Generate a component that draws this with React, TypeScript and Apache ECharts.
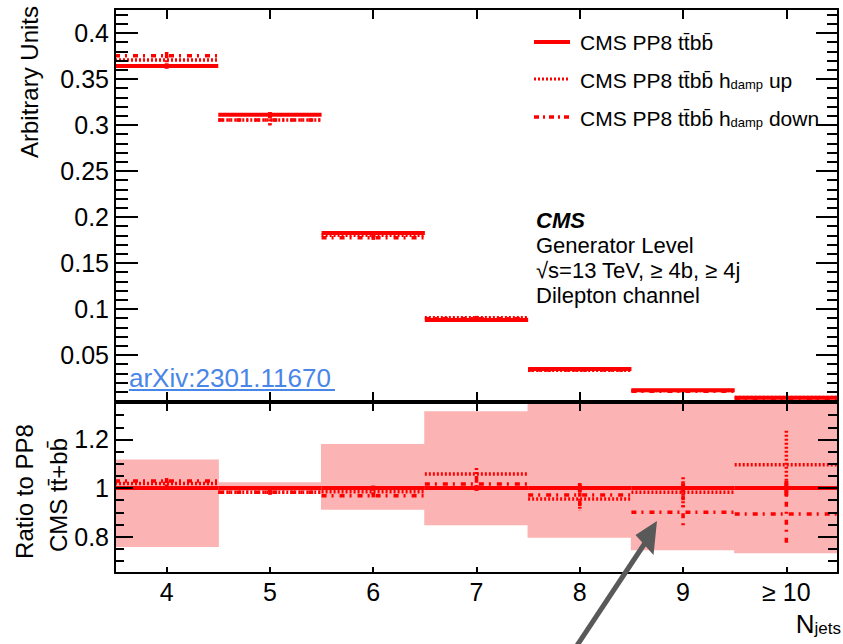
import React, { useEffect, useRef } from 'react';
import * as echarts from 'echarts';

// ---------- data ----------
const categories = ['4', '5', '6', '7', '8', '9', '≥ 10'];

// upper panel: normalised distributions (arbitrary units)
const nominal = [0.364, 0.311, 0.1826, 0.088, 0.0348, 0.0118, 0.0035];
const hdampUp = [0.3707, 0.3054, 0.1800, 0.0905, 0.0333, 0.0115, 0.0038];
const hdampDown = [0.3753, 0.3054, 0.1775, 0.0895, 0.0338, 0.0106, 0.0031];
const nominalErr = [0.003, 0.003, 0.002, 0.001, 0.0006, 0.0003, 0.0002];
const hdampUpErr = [0.004, 0.005, 0.003, 0.002, 0.001, 0.0006, 0.0004];
const hdampDownErr = [0.004, 0.007, 0.003, 0.002, 0.001, 0.0006, 0.0004];

// lower panel: ratio to nominal
const ratioNominal = [1, 1, 1, 1, 1, 1, 1];
const ratioUp = [1.019, 0.982, 0.985, 1.058, 0.955, 0.982, 1.096];
const ratioDown = [1.029, 0.982, 0.968, 1.0165, 0.971, 0.9, 0.893];
const ratioNominalErr = [0.008, 0.008, 0.01, 0.012, 0.015, 0.02, 0.03];
const ratioUpErr = [0.012, 0.01, 0.012, 0.024, 0.05, 0.062, 0.14];
const ratioDownErr = [0.012, 0.012, 0.014, 0.026, 0.05, 0.07, 0.124];
const bandLow = [0.757, 0.988, 0.91, 0.847, 0.795, 0.744, 0.731];
const bandHigh = [1.117, 1.024, 1.181, 1.316, 1.42, 1.45, 1.44];

// tick values
const mainTicks = [0.05, 0.1, 0.15, 0.2, 0.25, 0.3, 0.35, 0.4];
const mainMinorTicks = [
  0.01, 0.02, 0.03, 0.04, 0.06, 0.07, 0.08, 0.09, 0.11, 0.12, 0.13, 0.14,
  0.16, 0.17, 0.18, 0.19, 0.21, 0.22, 0.23, 0.24, 0.26, 0.27, 0.28, 0.29,
  0.31, 0.32, 0.33, 0.34, 0.36, 0.37, 0.38, 0.39, 0.41, 0.42,
];
const ratioTicks = [0.8, 1, 1.2];
const ratioMinorTicks = [0.7, 0.75, 0.85, 0.9, 0.95, 1.05, 1.1, 1.15, 1.25, 1.3];

// ---------- style ----------
const RED = '#ff0000';
const BAND = '#fbb3b3';
const FONT = 'Liberation Sans';
const SOLID = { lineWidth: 4, lineDash: null as any };
const DOTTED = { lineWidth: 3.5, lineDash: [2, 2] };
const DASHDOT = { lineWidth: 3.5, lineDash: [5, 5, 2, 6] };

function segSeries(xAxisIndex: number, yAxisIndex: number, values: number[], errs: number[], ls: any) {
  return {
    type: 'custom',
    xAxisIndex,
    yAxisIndex,
    clip: true,
    data: values.map((v, i) => [i, v, errs[i]]),
    encode: { x: 0, y: 1 },
    renderItem: (params: any, api: any) => {
      const i = api.value(0);
      const v = api.value(1);
      const e = api.value(2);
      const c = api.coord([i, v]);
      const w = api.size([1, 0])[0];
      const t = api.coord([i, v + e]);
      const b = api.coord([i, v - e]);
      const style = { stroke: RED, fill: null, lineWidth: ls.lineWidth, lineDash: ls.lineDash };
      return {
        type: 'group',
        children: [
          { type: 'line', shape: { x1: c[0] - w / 2, y1: c[1], x2: c[0] + w / 2, y2: c[1] }, style },
          { type: 'line', shape: { x1: c[0], y1: t[1], x2: c[0], y2: b[1] }, style },
        ],
      };
    },
  };
}

function bandSeries(xAxisIndex: number, yAxisIndex: number) {
  return {
    type: 'custom',
    xAxisIndex,
    yAxisIndex,
    clip: true,
    data: bandLow.map((lo, i) => [i, lo, bandHigh[i]]),
    encode: { x: 0, y: [1, 2] },
    renderItem: (params: any, api: any) => {
      const i = api.value(0);
      const lo = api.coord([i, api.value(1)]);
      const hi = api.coord([i, api.value(2)]);
      const w = api.size([1, 0])[0];
      const cs = params.coordSys;
      // slight overlap so neighbouring bins join without seams
      const rect = echarts.graphic.clipRectByRect(
        { x: lo[0] - w / 2 - 0.6, y: hi[1], width: w + 1.2, height: lo[1] - hi[1] },
        { x: cs.x, y: cs.y, width: cs.width, height: cs.height }
      );
      if (!rect) return null;
      return { type: 'rect', shape: rect, style: { fill: BAND } };
    },
  };
}

const axisLineStyle = { color: '#000', width: 2 };
const tickStyle = { color: '#000', width: 2 };
const labelStyle = { fontSize: 25, fontFamily: FONT, color: '#000' };

function xAxis(gridIndex: number, position: string, len: number, showLabel: boolean) {
  return {
    type: 'category',
    gridIndex,
    position,
    data: categories,
    boundaryGap: true,
    z: 10,
    axisLine: { show: true, onZero: false, lineStyle: axisLineStyle },
    axisTick: { show: true, inside: true, alignWithLabel: true, interval: 0, length: len, lineStyle: tickStyle },
    axisLabel: { show: showLabel, interval: 0, margin: 6, ...labelStyle },
    splitLine: { show: false },
  };
}

function yAxis(
  gridIndex: number, position: string, min: number, max: number,
  ticks: number[], len: number, labels: number[] | null, line: boolean
) {
  return {
    type: 'value',
    gridIndex,
    position,
    min,
    max,
    z: 10,
    axisLine: { show: line, onZero: false, lineStyle: axisLineStyle },
    axisTick: { show: true, inside: true, length: len, customValues: ticks, lineStyle: tickStyle },
    axisLabel: labels
      ? { show: true, customValues: labels, margin: 6, ...labelStyle, formatter: (v: number) => String(+(+v).toFixed(3)) }
      : { show: false },
    splitLine: { show: false },
  };
}

const TOP_MAX = 0.426;
const R_MIN = 0.65;
const R_MAX = 1.35;

const option: any = {
  animation: false,
  textStyle: { fontFamily: FONT },
  grid: [
    { left: 115, top: 9, width: 723, height: 392 },
    { left: 115, top: 403, width: 723, height: 170 },
  ],
  xAxis: [
    xAxis(0, 'bottom', 9, false),
    xAxis(0, 'top', 10, false),
    xAxis(1, 'bottom', 6, true),
    xAxis(1, 'top', 8, false),
  ],
  yAxis: [
    yAxis(0, 'left', 0, TOP_MAX, mainTicks, 23, mainTicks, true),
    yAxis(0, 'left', 0, TOP_MAX, mainMinorTicks, 13, null, false),
    yAxis(0, 'right', 0, TOP_MAX, mainTicks, 22, null, true),
    yAxis(0, 'right', 0, TOP_MAX, mainMinorTicks, 11, null, false),
    yAxis(1, 'left', R_MIN, R_MAX, ratioTicks, 18, ratioTicks, true),
    yAxis(1, 'left', R_MIN, R_MAX, ratioMinorTicks, 9, null, false),
    yAxis(1, 'right', R_MIN, R_MAX, ratioTicks, 20, null, true),
    yAxis(1, 'right', R_MIN, R_MAX, ratioMinorTicks, 10, null, false),
  ],
  series: [
    segSeries(0, 0, nominal, nominalErr, SOLID),
    segSeries(0, 0, hdampUp, hdampUpErr, DOTTED),
    segSeries(0, 0, hdampDown, hdampDownErr, DASHDOT),
    bandSeries(2, 4),
    segSeries(2, 4, ratioNominal, ratioNominalErr, SOLID),
    segSeries(2, 4, ratioUp, ratioUpErr, DOTTED),
    segSeries(2, 4, ratioDown, ratioDownErr, DASHDOT),
  ],
  graphic: [
    // legend
    { type: 'line', z: 100, shape: { x1: 534, y1: 42, x2: 570, y2: 42 }, style: { stroke: RED, lineWidth: 4 } },
    { type: 'line', z: 100, shape: { x1: 534, y1: 79, x2: 570, y2: 79 }, style: { stroke: RED, lineWidth: 3, lineDash: [2, 2] } },
    { type: 'line', z: 100, shape: { x1: 534, y1: 117, x2: 570, y2: 117 }, style: { stroke: RED, lineWidth: 3.5, lineDash: [5, 4, 2, 4] } },
    {
      type: 'text', z: 100, x: 580, y: 42.5,
      style: { text: 'CMS PP8 tt̄bb̄', fontSize: 21, fontFamily: FONT, fill: '#000', verticalAlign: 'middle' },
    },
    {
      type: 'text', z: 100, x: 580, y: 79,
      style: {
        text: '{m|CMS PP8 tt̄bb̄ h}{s|damp}{m| up}', verticalAlign: 'middle',
        rich: {
          m: { fontSize: 21, fontFamily: FONT, fill: '#000', lineHeight: 24, verticalAlign: 'bottom' },
          s: { fontSize: 13, fontFamily: FONT, fill: '#000', lineHeight: 6, verticalAlign: 'bottom' },
        },
      },
    },
    {
      type: 'text', z: 100, x: 580, y: 117,
      style: {
        text: '{m|CMS PP8 tt̄bb̄ h}{s|damp}{m| down}', verticalAlign: 'middle',
        rich: {
          m: { fontSize: 21, fontFamily: FONT, fill: '#000', lineHeight: 24, verticalAlign: 'bottom' },
          s: { fontSize: 13, fontFamily: FONT, fill: '#000', lineHeight: 6, verticalAlign: 'bottom' },
        },
      },
    },
    // CMS text block
    {
      type: 'text', z: 100, x: 536, y: 220,
      style: { text: 'CMS', fontSize: 22, fontWeight: 'bold', fontStyle: 'italic', fontFamily: FONT, fill: '#000', verticalAlign: 'middle' },
    },
    {
      type: 'text', z: 100, x: 536, y: 245,
      style: { text: 'Generator Level', fontSize: 22, fontFamily: FONT, fill: '#000', verticalAlign: 'middle' },
    },
    {
      type: 'text', z: 100, x: 536, y: 270,
      style: { text: '√s=13 TeV, ≥ 4b, ≥ 4j', fontSize: 22, fontFamily: FONT, fill: '#000', verticalAlign: 'middle' },
    },
    {
      type: 'text', z: 100, x: 536, y: 295.5,
      style: { text: 'Dilepton channel', fontSize: 22, fontFamily: FONT, fill: '#000', verticalAlign: 'middle' },
    },
    // arXiv link
    {
      type: 'text', z: 100, x: 129, y: 377.5,
      style: { text: 'arXiv:2301.11670', fontSize: 26, fontFamily: FONT, fill: '#4a86e8', verticalAlign: 'middle' },
    },
    { type: 'line', z: 100, shape: { x1: 129, y1: 390, x2: 335, y2: 390 }, style: { stroke: '#4a86e8', lineWidth: 2 } },
    // axis titles
    {
      type: 'text', z: 100, x: 29, y: 82, rotation: Math.PI / 2,
      style: { text: 'Arbitrary Units', fontSize: 24, fontFamily: FONT, fill: '#000', align: 'center', verticalAlign: 'middle' },
    },
    {
      type: 'text', z: 100, x: 24.5, y: 491.5, rotation: Math.PI / 2,
      style: { text: 'Ratio to PP8', fontSize: 24, fontFamily: FONT, fill: '#000', align: 'center', verticalAlign: 'middle' },
    },
    {
      type: 'text', z: 100, x: 58, y: 495, rotation: Math.PI / 2,
      style: { text: 'CMS tt̄+bb̄', fontSize: 24, fontFamily: FONT, fill: '#000', align: 'center', verticalAlign: 'middle' },
    },
    {
      type: 'text', z: 100, x: 841, y: 622,
      style: {
        text: '{n|N}{j|jets}', align: 'right', verticalAlign: 'middle',
        rich: {
          n: { fontSize: 26, fontFamily: FONT, fill: '#000', lineHeight: 30, verticalAlign: 'bottom' },
          j: { fontSize: 17, fontFamily: FONT, fill: '#000', lineHeight: 10, verticalAlign: 'bottom' },
        },
      },
    },
    // annotation arrow
    { type: 'line', z: 120, shape: { x1: 576, y1: 647, x2: 645, y2: 543 }, style: { stroke: '#595959', lineWidth: 5 } },
    {
      type: 'polygon', z: 120,
      shape: { points: [[657, 521], [635.5, 535], [653.5, 555]] },
      style: { fill: '#595959' },
    },
  ],
};

export default function App() {
  const ref = useRef<HTMLDivElement>(null);
  useEffect(() => {
    const chart = echarts.init(ref.current!, null, { renderer: 'svg' });
    chart.setOption(option);
    return () => chart.dispose();
  }, []);
  return (
    <div
      ref={ref}
      style={{ position: 'absolute', left: 0, top: 0, width: 843, height: 644, background: '#fff' }}
    />
  );
}
